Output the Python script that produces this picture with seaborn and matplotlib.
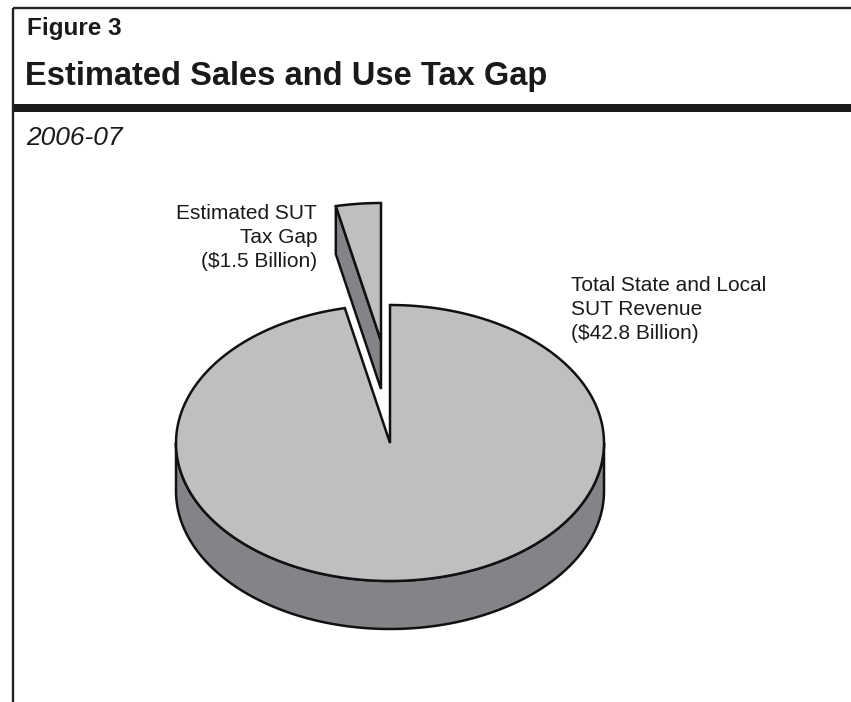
import numpy as np
import matplotlib
matplotlib.use("Agg")
import matplotlib.pyplot as plt
from matplotlib.patches import Polygon, Rectangle
import seaborn as sns

# ---- data ----
categories = ["Estimated SUT\nTax Gap\n($1.5 Billion)",
              "Total State and Local\nSUT Revenue\n($42.8 Billion)"]
values = [1.5, 42.8]          # billions of dollars
exploded = [True, False]
fig_label = "Figure 3"
title = "Estimated Sales and Use Tax Gap"
subtitle = "2006-07"

# ---- style ----
sns.set_theme(style="white")
plt.rcParams['font.family'] = ['Liberation Sans', 'DejaVu Sans']
TOP = "#bebfc1"
SIDE = "#838488"
EDGE = "#111111"
LW = 1.8

W, H = 851, 702
fig = plt.figure(figsize=(W / 100, H / 100), dpi=100)
ax = fig.add_axes([0, 0, 1, 1])
ax.set_xlim(0, W)
ax.set_ylim(H, 0)
ax.axis("off")

# pie geometry (pixel space)
cx, cy, rx, ry, depth = 390, 443, 214, 138, 48
explode_off = (-9, -102)


def pt(theta_deg, off=(0, 0), dz=0):
    t = np.deg2rad(theta_deg)
    return (cx + off[0] + rx * np.cos(t), cy + off[1] - ry * np.sin(t) + dz)


def arc(t0, t1, off=(0, 0), dz=0, n=200):
    ts = np.linspace(t0, t1, n)
    return [pt(t, off, dz) for t in ts]


total = sum(values)
angles = []
start = 90.0
for v in values:
    span = 360.0 * v / total
    angles.append((start, start + span))
    start += span

# main (non-exploded) slice(s): side wall then top
for (a0, a1), ex in zip(angles, exploded):
    if ex:
        continue
    lo, hi = max(a0, 180), min(a1, 360)
    if hi > lo:
        top_arc = arc(lo, hi)
        bot_arc = arc(hi, lo, dz=depth)
        ax.add_patch(Polygon(top_arc + bot_arc, closed=True, facecolor=SIDE,
                             edgecolor=EDGE, lw=LW, joinstyle="round", zorder=2))
    top = [(cx, cy)] + arc(a0, a1) + [(cx, cy)]
    ax.add_patch(Polygon(top, closed=True, facecolor=TOP, edgecolor=EDGE,
                         lw=LW, joinstyle="miter", zorder=3))

# exploded slice
for (a0, a1), ex in zip(angles, exploded):
    if not ex:
        continue
    o = explode_off
    tip_t = (cx + o[0], cy + o[1])
    tip_b = (cx + o[0], cy + o[1] + depth)
    wall = [tip_t, pt(a1, o), pt(a1, o, depth), tip_b]
    ax.add_patch(Polygon(wall, closed=True, facecolor=SIDE, edgecolor=EDGE,
                         lw=LW, joinstyle="miter", zorder=4))
    top = [tip_t] + arc(a0, a1, o) + [tip_t]
    ax.add_patch(Polygon(top, closed=True, facecolor=TOP, edgecolor=EDGE,
                         lw=LW, joinstyle="miter", zorder=5))

# labels
ax.text(317, 267, categories[0], ha="right", va="baseline", fontsize=15,
        multialignment="right", linespacing=1.34, color="#1a1a1a", zorder=6)
ax.text(571, 339, categories[1], ha="left", va="baseline", fontsize=15,
        multialignment="left", linespacing=1.34, color="#1a1a1a", zorder=6)

# frame and header
ax.plot([12.5, W], [8, 8], color="#222222", lw=1.7, solid_capstyle="butt")
ax.plot([12.5, 12.5], [8, H], color="#222222", lw=1.7, solid_capstyle="butt")
ax.add_patch(Rectangle((12, 104), W - 12, 7.5, facecolor="#1a1a1a",
                       edgecolor="none"))

ax.text(27, 35, fig_label, ha="left", va="baseline", fontsize=17.5,
        fontweight="bold", color="#1a1a1a")
ax.text(25, 85, title, ha="left", va="baseline", fontsize=23.5,
        fontweight="bold", color="#1a1a1a")
ax.text(26, 145, subtitle, ha="left", va="baseline", fontsize=19,
        fontstyle="italic", color="#1a1a1a")

fig.savefig("out.png", dpi=100, facecolor="white")
